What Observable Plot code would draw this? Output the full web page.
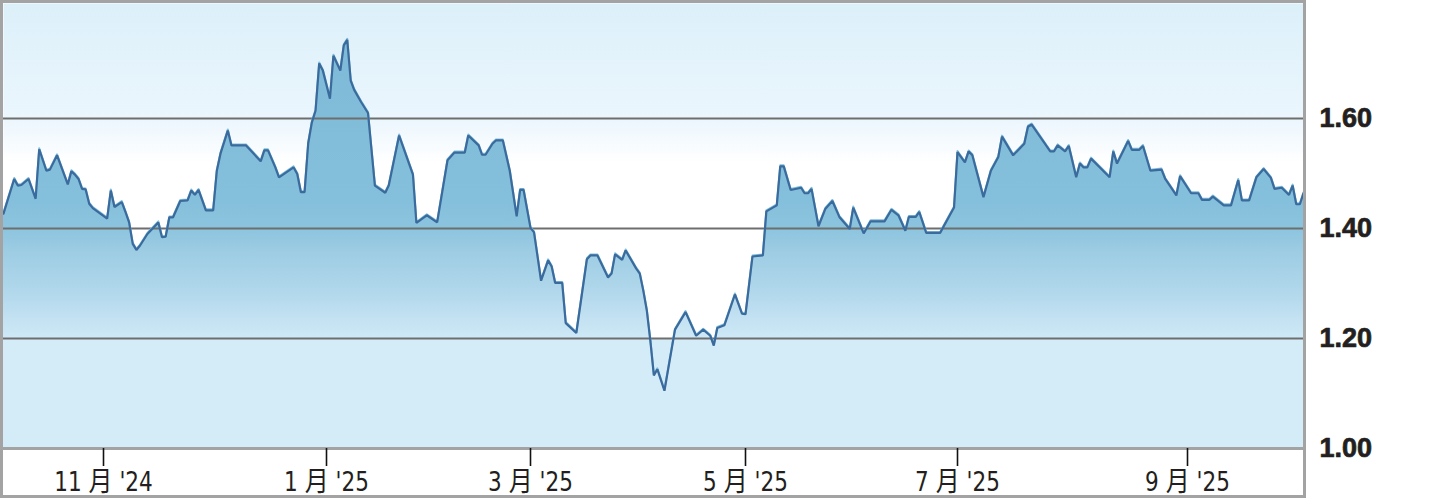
<!DOCTYPE html>
<html><head><meta charset="utf-8">
<script src="https://cdn.jsdelivr.net/npm/d3@7"></script>
<script src="https://cdn.jsdelivr.net/npm/@observablehq/plot@0.6"></script>
<style>
html,body{margin:0;padding:0;background:#fff;}
#chart svg{display:block;}
g[aria-label="ylabels"] text{letter-spacing:1.5px;}
</style></head><body><div id="chart"></div>
<script>
const dates = [
"2024-10-04","2024-10-07","2024-10-08","2024-10-09","2024-10-11","2024-10-13","2024-10-14","2024-10-16","2024-10-17","2024-10-19",
"2024-10-22","2024-10-23","2024-10-24","2024-10-25","2024-10-26","2024-10-27","2024-10-28","2024-10-29","2024-11-02","2024-11-03",
"2024-11-04","2024-11-06","2024-11-07","2024-11-08","2024-11-09","2024-11-10","2024-11-11","2024-11-13","2024-11-16","2024-11-17",
"2024-11-18","2024-11-19","2024-11-20","2024-11-22","2024-11-24","2024-11-25","2024-11-26","2024-11-27","2024-11-29","2024-12-01",
"2024-12-02","2024-12-03","2024-12-05","2024-12-06","2024-12-10","2024-12-14","2024-12-15","2024-12-16","2024-12-18","2024-12-19",
"2024-12-23","2024-12-24","2024-12-25","2024-12-26","2024-12-27","2024-12-28","2024-12-29","2024-12-30","2024-12-31","2025-01-02",
"2025-01-03","2025-01-05","2025-01-06","2025-01-07","2025-01-08","2025-01-09","2025-01-11","2025-01-13","2025-01-15","2025-01-18",
"2025-01-19","2025-01-22","2025-01-26","2025-01-27","2025-01-30","2025-02-02","2025-02-05","2025-02-07","2025-02-10","2025-02-11",
"2025-02-14","2025-02-15","2025-02-16","2025-02-18","2025-02-19","2025-02-21","2025-02-23","2025-02-25","2025-02-26","2025-02-27",
"2025-03-01","2025-03-02","2025-03-04","2025-03-06","2025-03-07","2025-03-08","2025-03-10","2025-03-11","2025-03-14","2025-03-17",
"2025-03-18","2025-03-20","2025-03-23","2025-03-24","2025-03-25","2025-03-27","2025-03-28","2025-03-31","2025-04-01","2025-04-02",
"2025-04-03","2025-04-04","2025-04-05","2025-04-06","2025-04-08","2025-04-11","2025-04-14","2025-04-17","2025-04-19","2025-04-21",
"2025-04-22","2025-04-23","2025-04-25","2025-04-28","2025-04-30","2025-05-01","2025-05-03","2025-05-06","2025-05-07","2025-05-10",
"2025-05-11","2025-05-12","2025-05-14","2025-05-17","2025-05-18","2025-05-19","2025-05-20","2025-05-22","2025-05-24","2025-05-26",
"2025-05-28","2025-05-31","2025-06-01","2025-06-04","2025-06-06","2025-06-10","2025-06-12","2025-06-14","2025-06-16","2025-06-17",
"2025-06-19","2025-06-20","2025-06-22","2025-06-26","2025-06-30","2025-07-01","2025-07-03","2025-07-04","2025-07-05","2025-07-08",
"2025-07-10","2025-07-12","2025-07-13","2025-07-16","2025-07-19","2025-07-20","2025-07-21","2025-07-26","2025-07-27","2025-07-28",
"2025-07-30","2025-07-31","2025-08-02","2025-08-03","2025-08-04","2025-08-05","2025-08-06","2025-08-11","2025-08-12","2025-08-13",
"2025-08-16","2025-08-17","2025-08-19","2025-08-20","2025-08-22","2025-08-25","2025-08-26","2025-08-29","2025-08-30","2025-09-02",
"2025-09-04","2025-09-05","2025-09-07","2025-09-08","2025-09-11","2025-09-13","2025-09-15","2025-09-16","2025-09-18","2025-09-20",
"2025-09-22","2025-09-24","2025-09-25","2025-09-27","2025-09-29","2025-09-30","2025-10-01","2025-10-02","2025-10-03"
];
const closes = [
1.427,1.490,1.478,1.479,1.490,1.454,1.544,1.505,1.507,1.533,
1.480,1.504,1.498,1.490,1.472,1.471,1.445,1.437,1.418,1.469,
1.439,1.448,1.430,1.411,1.372,1.361,1.369,1.390,1.411,1.384,
1.385,1.420,1.420,1.450,1.451,1.469,1.461,1.470,1.433,1.433,
1.505,1.536,1.578,1.551,1.551,1.522,1.542,1.542,1.511,1.493,
1.511,1.499,1.466,1.466,1.555,1.593,1.614,1.700,1.687,1.636,
1.714,1.687,1.733,1.743,1.669,1.652,1.630,1.610,1.478,1.465,
1.478,1.569,1.498,1.410,1.424,1.411,1.524,1.538,1.538,1.569,
1.551,1.534,1.534,1.554,1.560,1.560,1.505,1.422,1.470,1.470,
1.401,1.393,1.305,1.342,1.331,1.301,1.301,1.228,1.210,1.344,
1.351,1.351,1.311,1.318,1.353,1.343,1.360,1.327,1.318,1.287,
1.251,1.196,1.133,1.144,1.105,1.216,1.248,1.205,1.216,1.205,
1.187,1.219,1.224,1.280,1.245,1.244,1.349,1.351,1.431,1.442,
1.513,1.513,1.470,1.474,1.464,1.464,1.472,1.404,1.436,1.450,
1.421,1.399,1.438,1.391,1.413,1.413,1.434,1.424,1.396,1.421,
1.421,1.430,1.392,1.392,1.438,1.539,1.520,1.540,1.533,1.457,
1.505,1.530,1.567,1.533,1.554,1.585,1.589,1.540,1.540,1.551,
1.540,1.550,1.493,1.518,1.511,1.511,1.527,1.493,1.540,1.518,
1.559,1.543,1.543,1.550,1.505,1.507,1.490,1.460,1.495,1.464,
1.464,1.452,1.452,1.458,1.442,1.442,1.488,1.451,1.451,1.493,
1.508,1.492,1.472,1.474,1.461,1.478,1.444,1.444,1.464
];
const monthTicks = ["2024-11-01","2025-01-01","2025-03-01","2025-05-01","2025-07-01","2025-09-01"];
const monthLabels = ["11 月 '24","1 月 '25","3 月 '25","5 月 '25","7 月 '25","9 月 '25"];
const yTicks = [1.00, 1.20, 1.40, 1.60];
const gridValues = [1.20, 1.40, 1.60];
const yMin = 1.00, yMax = 1.809;
// piecewise time axis (breakpoints of the original's uneven month spacing)
const xBreaks = ["2024-10-04","2024-11-01","2025-01-01","2025-03-01","2025-05-01","2025-07-01","2025-09-01","2025-10-03"];
const xBreakPx = [3,103,326,530,745,957,1187,1303];
const bgStops = [[1.809,"#dcf0fa"],[1.60,"#ebf6fd"],[1.52,"#ffffff"],[1.20,"#ffffff"],[1.20,"#d4ebf8"],[1.00,"#d4ebf8"]];
const areaStops = [[1.809,"#7db9d7"],[1.45,"#84bfdb"],[1.40,"#8cc4de"],[1.36,"#9ccce3"],[1.287,"#b0d7eb"],[1.233,"#c4e2f2"],[1.203,"#cde8f6"],[1.20,"#d4ebf8"],[1.00,"#d4ebf8"]];

const data = dates.map((d, i) => ({date: new Date(d), close: closes[i]}));
const tickDates = monthTicks.map(d => new Date(d));
const labelOf = d => monthLabels[tickDates.findIndex(t => +t === +d)];

function border(index, scales, values, dims) {
  const {width, height, marginLeft, marginRight, marginTop, marginBottom} = dims;
  const g = d3.create("svg:g").attr("fill", "none").attr("stroke", "#a3a3a3").attr("stroke-width", 3);
  g.append("rect")
    .attr("x", marginLeft - 1.5).attr("y", marginTop - 1.5)
    .attr("width", width - marginRight - marginLeft + 3)
    .attr("height", height - marginTop - 2);
  g.append("line")
    .attr("x1", marginLeft - 1.5).attr("x2", width - marginRight + 1.5)
    .attr("y1", height - marginBottom + 0.5).attr("y2", height - marginBottom + 0.5);
  return g.node();
}

const xlabFont = "'Liberation Sans Narrow','Arial Narrow','DejaVu Sans Condensed','Noto Sans CJK SC',sans-serif";

const chart = Plot.plot({
  width: 1449,
  height: 500,
  marginLeft: 3,
  marginRight: 146,
  marginTop: 3,
  marginBottom: 52,
  style: {background: "#ffffff", color: "#231f20"},
  x: {type: "utc", domain: xBreaks.map(d => new Date(d)), range: xBreakPx, axis: null},
  y: {domain: [yMin, yMax], axis: null},
  marks: [
    Plot.frame({fill: "url(#bgGrad)", stroke: "none"}),
    Plot.areaY(data, {x: "date", y1: yMin, y2: "close", fill: "url(#areaGrad)"}),
    Plot.ruleY(gridValues, {stroke: "#6e6e6e", strokeWidth: 2}),
    Plot.lineY(data, {x: "date", y: "close", stroke: "#7cbddc", strokeWidth: 2, dy: -1}),
    Plot.lineY(data, {x: "date", y: "close", stroke: "#3b6a9c", strokeWidth: 2.2, strokeLinejoin: "miter"}),
    border,
    Plot.axisX(tickDates, {
      anchor: "bottom", label: null, tickSize: 18, tickPadding: 5,
      tickFormat: labelOf, fontSize: 24, fontFamily: xlabFont,
      stroke: "#111", strokeWidth: 1.6, fill: "#231f20", ariaLabel: "xlabels"
    }),
    Plot.text(yTicks, {
      y: d => d, text: d => d.toFixed(2), frameAnchor: "right", textAnchor: "start", dx: 16,
      fontSize: 27, fontWeight: "bold", fontFamily: "'Liberation Sans',Arial,sans-serif",
      fill: "#231f20", stroke: "#231f20", strokeWidth: 0.7, ariaLabel: "ylabels"
    })
  ]
});

const sy = chart.scale("y");
const yPix = d3.scaleLinear(sy.domain, sy.range);
const svg = d3.select(chart);
const defs = svg.insert("defs", ":first-child");
function grad(id, stops) {
  const y1 = yPix(yMax), y2 = yPix(yMin);
  const lg = defs.append("linearGradient").attr("id", id).attr("gradientUnits", "userSpaceOnUse")
    .attr("x1", 0).attr("x2", 0).attr("y1", y1).attr("y2", y2);
  for (const [v, c] of stops) lg.append("stop").attr("offset", (yPix(v) - y1) / (y2 - y1)).attr("stop-color", c);
}
grad("bgGrad", bgStops);
grad("areaGrad", areaStops);

// the original's tick labels are set in a tall, narrow face: stretch them vertically a little
svg.selectAll("text").each(function() {
  const t = d3.select(this);
  const tr = t.attr("transform");
  if (this.closest('g[aria-label^="x"]') && tr && tr.startsWith("translate")) {
    t.attr("transform", tr + " scale(1,1.12)");
  }
});

document.getElementById("chart").appendChild(chart);
</script></body></html>
